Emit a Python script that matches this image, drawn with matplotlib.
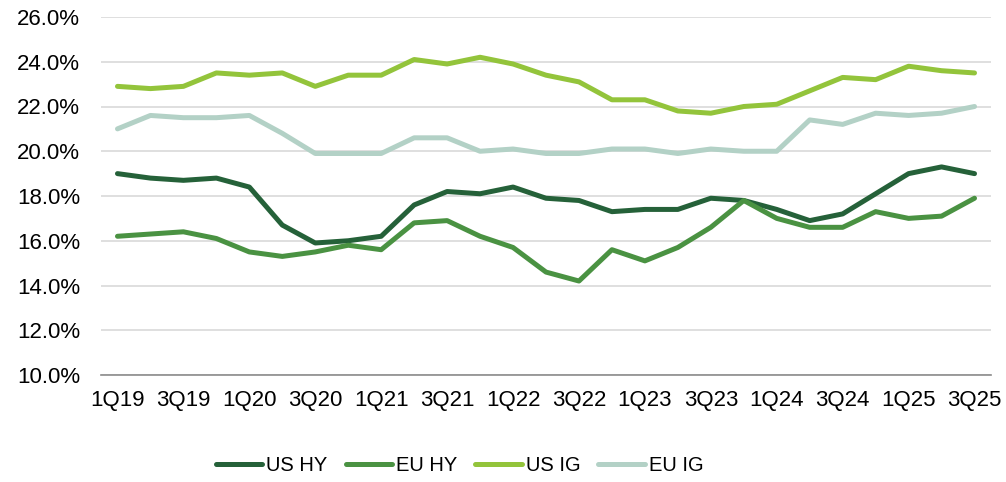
import matplotlib.pyplot as plt
from matplotlib.ticker import FuncFormatter

plt.rcParams["font.family"] = ["Liberation Sans", "DejaVu Sans"]

quarters = [f"{q}Q{y}" for y in range(19, 26) for q in range(1, 5)][:27]

us_hy = [19.0, 18.8, 18.7, 18.8, 18.4, 16.7, 15.9, 16.0, 16.2, 17.6, 18.2, 18.1, 18.4, 17.9,
         17.8, 17.3, 17.4, 17.4, 17.9, 17.8, 17.4, 16.9, 17.2, 18.1, 19.0, 19.3, 19.0]
eu_hy = [16.2, 16.3, 16.4, 16.1, 15.5, 15.3, 15.5, 15.8, 15.6, 16.8, 16.9, 16.2, 15.7, 14.6,
         14.2, 15.6, 15.1, 15.7, 16.6, 17.8, 17.0, 16.6, 16.6, 17.3, 17.0, 17.1, 17.9]
us_ig = [22.9, 22.8, 22.9, 23.5, 23.4, 23.5, 22.9, 23.4, 23.4, 24.1, 23.9, 24.2, 23.9, 23.4,
         23.1, 22.3, 22.3, 21.8, 21.7, 22.0, 22.1, 22.7, 23.3, 23.2, 23.8, 23.6, 23.5]
eu_ig = [21.0, 21.6, 21.5, 21.5, 21.6, 20.8, 19.9, 19.9, 19.9, 20.6, 20.6, 20.0, 20.1, 19.9,
         19.9, 20.1, 20.1, 19.9, 20.1, 20.0, 20.0, 21.4, 21.2, 21.7, 21.6, 21.7, 22.0]

series = [("US HY", us_hy, "#256139"), ("EU HY", eu_hy, "#4a9242"),
          ("US IG", us_ig, "#93c43b"), ("EU IG", eu_ig, "#b3d1c6")]

fig = plt.figure(figsize=(10.06, 4.82), dpi=100)
ax = fig.add_axes([101 / 1006, 1 - 375 / 482, 890 / 1006, 358 / 482])

x = range(len(quarters))
for name, vals, col in series:
    ax.plot(x, vals, color=col, lw=3.6, label=name, solid_capstyle="round", solid_joinstyle="round")

ax.set_xlim(-0.5, len(quarters) - 0.5)
ax.set_ylim(10, 26)
ax.set_yticks(range(10, 27, 2))
ax.yaxis.set_major_formatter(FuncFormatter(lambda v, p: f"{v:.1f}%"))
ax.set_xticks(list(x)[::2])
ax.set_xticklabels(quarters[::2])
ax.grid(axis="y", color="#d9d9d9", lw=1.2)
ax.set_axisbelow(True)
for s in ["top", "right", "left"]:
    ax.spines[s].set_visible(False)
ax.spines["bottom"].set_color("#8c8c8c")
ax.spines["bottom"].set_linewidth(1.2)
ax.tick_params(axis="both", length=0, labelsize=16, colors="black")
ax.tick_params(axis="x", pad=11)
ax.tick_params(axis="y", pad=15)

ax.legend(loc="center", bbox_to_anchor=(0.403, -0.254), ncol=4, frameon=False, fontsize=14.5,
          handlelength=2.3, handletextpad=0.2, columnspacing=0.9)

fig.savefig("out.png", dpi=100)
